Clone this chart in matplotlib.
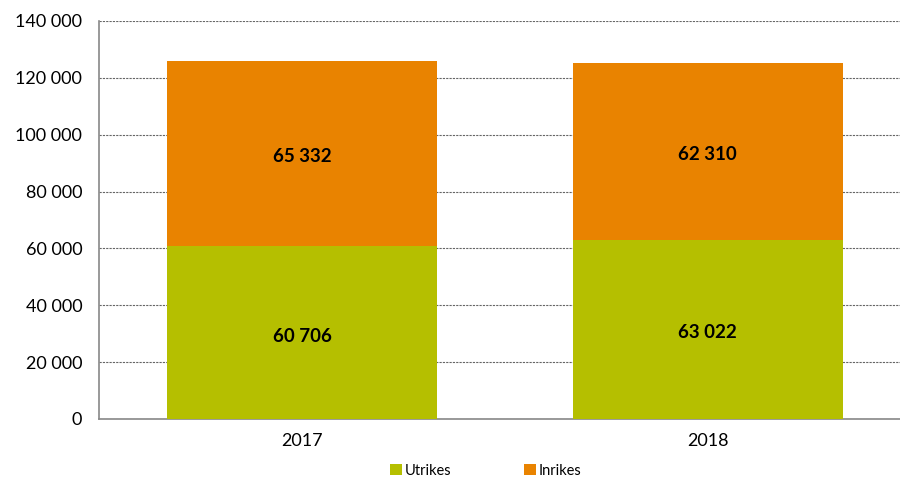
import matplotlib
matplotlib.use("Agg")
import matplotlib.pyplot as plt
from matplotlib.ticker import FuncFormatter

years = ["2017", "2018"]
utrikes = [60706, 63022]
inrikes = [65332, 62310]
yticks = [0, 20000, 40000, 60000, 80000, 100000, 120000, 140000]

green = "#B5BF00"
orange = "#E98300"

plt.rcParams['font.family'] = ['Lato', 'DejaVu Sans']

fig = plt.figure(figsize=(9, 4.79), dpi=100)
ax = fig.add_axes([0.11, 0.1253, 0.902, 0.831])

x = list(range(len(years)))
w = 0.665
ax.bar(x, utrikes, w, color=green, label="Utrikes", zorder=3)
ax.bar(x, inrikes, w, bottom=utrikes, color=orange, label="Inrikes", zorder=3)

for i in x:
    ax.text(i, utrikes[i] / 2 - 1200, f"{utrikes[i]:,}".replace(",", " "), ha="center", va="center",
            fontsize=13.5, fontweight="bold", color="black", zorder=4)
    ax.text(i, utrikes[i] + inrikes[i] / 2 - 1000, f"{inrikes[i]:,}".replace(",", " "), ha="center", va="center",
            fontsize=13.5, fontweight="bold", color="black", zorder=4)

ax.set_xlim(-0.5, len(years) - 0.5)
ax.set_ylim(0, 140000)
ax.set_yticks(yticks)
ax.yaxis.set_major_formatter(FuncFormatter(lambda v, p: f"{int(v):,}".replace(",", " ")))
ax.set_xticks(x)
ax.set_xticklabels(years)
ax.tick_params(axis="both", length=0, labelsize=13, colors="black")
ax.tick_params(axis="y", pad=12)
ax.tick_params(axis="x", pad=10)

ax.grid(axis="y", linestyle=(0, (2, 1)), color="#666666", linewidth=0.8, zorder=0)
for s in ["top", "right"]:
    ax.spines[s].set_visible(False)
for s in ["left", "bottom"]:
    ax.spines[s].set_color("#888888")
    ax.spines[s].set_linewidth(1.2)

fig.legend(loc="lower center", bbox_to_anchor=(0.54, -0.016), ncol=2, frameon=False,
           fontsize=10.5, handlelength=0.8, handleheight=0.8, columnspacing=5.0, handletextpad=0.2,
           borderpad=0.1)

fig.savefig("out.png", dpi=100)
